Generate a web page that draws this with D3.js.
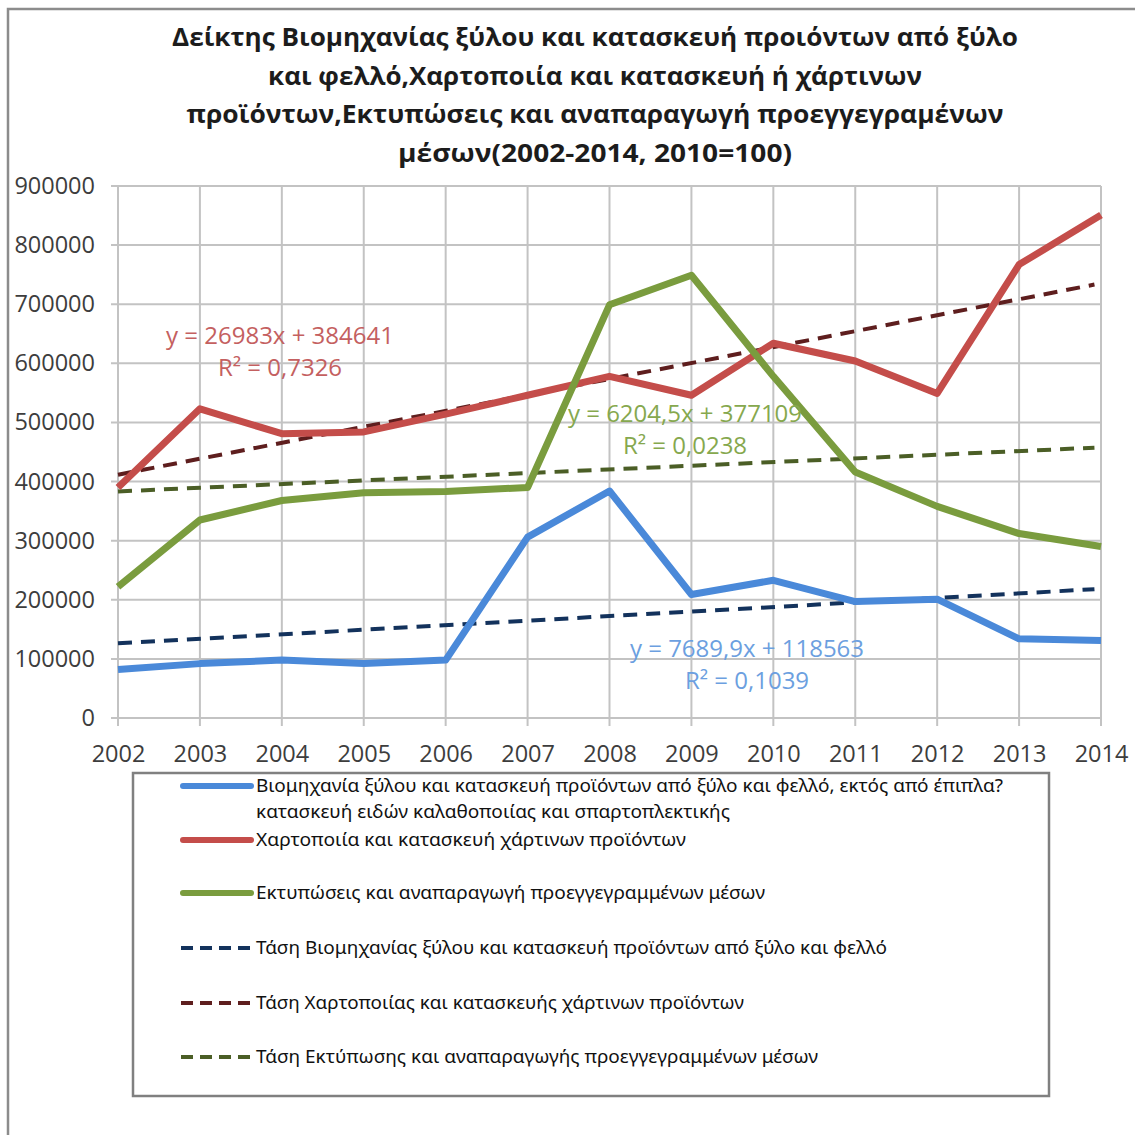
<!DOCTYPE html>
<html>
<head>
<meta charset="utf-8">
<script src="https://cdn.jsdelivr.net/npm/d3@7"></script>
<style>
  body { margin: 0; background: #fff; }
  svg { display: block; }
</style>
</head>
<body>
<div id="chart"></div>
<script>
"use strict";

// years on the x axis
var years = [2002, 2003, 2004, 2005, 2006, 2007, 2008, 2009, 2010, 2011, 2012, 2013, 2014];
var yTicks = [0, 100000, 200000, 300000, 400000, 500000, 600000, 700000, 800000, 900000];

// series values
var wood  = [82000, 92000, 98000, 92000, 98000, 306000, 384000, 209000, 233000, 197000, 201000, 134000, 131000];
var paper = [390000, 523000, 481000, 484000, 514000, 546000, 578000, 546000, 634000, 604000, 549000, 767000, 851000];
var print = [222000, 335000, 368000, 381000, 383000, 390000, 699000, 749000, 578000, 416000, 358000, 312000, 290000];

// linear trend coefficients (x = 1..13), as shown on the chart
var woodTrend  = [7689.9, 118563];
var paperTrend = [26983, 384641];
var printTrend = [6204.5, 377109];

var titleLines = [
  "Δείκτης Βιομηχανίας ξύλου και κατασκευή προιόντων από ξύλο",
  "και φελλό,Χαρτοποιία και κατασκευή ή χάρτινων",
  "προϊόντων,Εκτυπώσεις και αναπαραγωγή προεγγεγραμένων",
  "μέσων(2002-2014, 2010=100)"
];

var trendLabels = [
  ["y = 26983x + 384641", "R² = 0,7326"],
  ["y = 6204,5x + 377109", "R² = 0,0238"],
  ["y = 7689,9x + 118563", "R² = 0,1039"]
];

var legendLabels = [
  ["Βιομηχανία ξύλου και κατασκευή προϊόντων από ξύλο και φελλό, εκτός από έπιπλα?", "κατασκευή ειδών καλαθοποιίας και σπαρτοπλεκτικής"],
  ["Χαρτοποιία και κατασκευή χάρτινων προϊόντων"],
  ["Εκτυπώσεις και αναπαραγωγή προεγγεγραμμένων μέσων"],
  ["Τάση Βιομηχανίας ξύλου και κατασκευή προϊόντων από ξύλο και φελλό"],
  ["Τάση Χαρτοποιίας και κατασκευής χάρτινων προϊόντων"],
  ["Τάση Εκτύπωσης και αναπαραγωγής προεγγεγραμμένων μέσων"]
];

//Layout
var W = 1135, H = 1135;
var plot = {left: 118, right: 1101, top: 186, bottom: 718};
var lineColors  = ["#4a89d9", "#c44d4a", "#7a9c3e"];
var trendColors = ["#13325c", "#5e1e1e", "#4b5e26"];

var svg = d3.select("#chart").append("svg")
    .attr("width", W)
    .attr("height", H);

svg.append("rect").attr("width", W).attr("height", H).attr("fill", "#fff");

// chart frame
svg.append("rect")
    .attr("x", 8).attr("y", 9)
    .attr("width", W + 20).attr("height", H + 20)
    .attr("fill", "none")
    .attr("stroke", "#8c8c8c")
    .attr("stroke-width", 2.5);

var x = d3.scaleLinear().domain([2002, 2014]).range([plot.left, plot.right]);
var y = d3.scaleLinear().domain([0, 900000]).range([plot.bottom, plot.top]);

// title
var titleWidths = [846, 654, 817, 394];
svg.append("g").selectAll("text")
  .data(titleLines)
  .join("text")
    .attr("x", 595)
    .attr("y", function(d, i){ return 46 + i * 38.5; })
    .attr("text-anchor", "middle")
    .attr("font-family", "'Open Sans', 'Noto Sans', sans-serif")
    .attr("font-weight", "bold")
    .attr("font-size", 25)
    .attr("fill", "#1c1c1c")
    .attr("textLength", function(d, i){ return titleWidths[i]; })
    .attr("lengthAdjust", "spacingAndGlyphs")
    .text(function(d){ return d; });

// gridlines
var grid = svg.append("g").attr("stroke", "#c3c3c3").attr("stroke-width", 2);
grid.selectAll("line.h")
  .data(yTicks)
  .join("line")
    .attr("class", "h")
    .attr("x1", plot.left - 7).attr("x2", plot.right)
    .attr("y1", function(d){ return y(d); })
    .attr("y2", function(d){ return y(d); });
grid.selectAll("line.v")
  .data(years)
  .join("line")
    .attr("class", "v")
    .attr("x1", function(d){ return x(d); })
    .attr("x2", function(d){ return x(d); })
    .attr("y1", plot.top)
    .attr("y2", plot.bottom + 8);

// axes labels
var yAxis = d3.axisLeft(y).tickValues(yTicks).tickSize(0).tickPadding(23).tickFormat(d3.format("d"));
var xAxis = d3.axisBottom(x).tickValues(years).tickSize(0).tickPadding(27).tickFormat(d3.format("d"));

var gy = svg.append("g").attr("transform", "translate(" + plot.left + ",0)").call(yAxis);
var gx = svg.append("g").attr("transform", "translate(0," + plot.bottom + ")").call(xAxis);
[gy, gx].forEach(function(g){
  g.select(".domain").remove();
  g.selectAll("text")
    .attr("font-family", "'Open Sans', sans-serif")
    .attr("font-size", 23.5)
    .attr("fill", "#3d3d3d");
});

// trend lines
var trends = [woodTrend, paperTrend, printTrend];
var tLine = d3.line()
    .x(function(d){ return x(d[0]); })
    .y(function(d){ return y(d[1]); });
svg.append("g").selectAll("path")
  .data(trends)
  .join("path")
    .attr("d", function(t){
      return tLine([[years[0], t[0] * 1 + t[1]], [years[years.length - 1] - 0.08, t[0] * 12.92 + t[1]]]);
    })
    .attr("fill", "none")
    .attr("stroke", function(d, i){ return trendColors[i]; })
    .attr("stroke-width", 4)
    .attr("stroke-dasharray", "14,9");

// data lines
var series = [wood, paper, print];
var line = d3.line()
    .x(function(d, i){ return x(years[i]); })
    .y(function(d){ return y(d); });
svg.append("g").selectAll("path")
  .data(series)
  .join("path")
    .attr("d", line)
    .attr("fill", "none")
    .attr("stroke", function(d, i){ return lineColors[i]; })
    .attr("stroke-width", 7)
    .attr("stroke-linejoin", "round");

// trendline equations
var labelPos = [[280, 344], [685, 422], [747, 657]];
var labelColors = ["#c46060", "#86a84e", "#6c9fe0"];
trendLabels.forEach(function(lbl, i){
  svg.append("g").selectAll("text")
    .data(lbl)
    .join("text")
      .attr("x", labelPos[i][0])
      .attr("y", function(d, j){ return labelPos[i][1] + j * 32; })
      .attr("text-anchor", "middle")
      .attr("font-family", "'Open Sans', sans-serif")
      .attr("font-size", 24)
      .attr("fill", labelColors[i])
      .text(function(d){ return d; });
});

// legend
var leg = svg.append("g");
leg.append("rect")
    .attr("x", 133).attr("y", 773)
    .attr("width", 916).attr("height", 323)
    .attr("fill", "#fff")
    .attr("stroke", "#808080")
    .attr("stroke-width", 2.5);

var legY = [786, 840, 893, 948, 1003, 1057];
var legColors = lineColors.concat(trendColors);
var legWidths = [[747, 474], [430], [509], [631], [488], [562]];

var items = leg.selectAll("g.item")
  .data(legendLabels)
  .join("g")
    .attr("class", "item")
    .attr("transform", function(d, i){ return "translate(0," + legY[i] + ")"; });

items.append("line")
    .attr("x1", function(d, i){ return i < 3 ? 183 : 181; })
    .attr("x2", function(d, i){ return i < 3 ? 251 : 255; })
    .attr("stroke", function(d, i){ return legColors[i]; })
    .attr("stroke-width", function(d, i){ return i < 3 ? 6 : 4; })
    .attr("stroke-linecap", function(d, i){ return i < 3 ? "round" : "butt"; })
    .attr("stroke-dasharray", function(d, i){ return i < 3 ? null : "12,7"; });

items.each(function(d, i){
  d3.select(this).selectAll("text")
    .data(d)
    .join("text")
      .attr("x", 256)
      .attr("y", function(t, j){ return 6 + j * 26; })
      .attr("font-family", "'Liberation Sans Narrow', 'Noto Sans', sans-serif")
      .attr("font-size", 18)
      .attr("fill", "#111")
      .attr("textLength", function(t, j){ return legWidths[i][j]; })
      .attr("lengthAdjust", "spacingAndGlyphs")
      .text(function(t){ return t; });
});
</script>
</body>
</html>
